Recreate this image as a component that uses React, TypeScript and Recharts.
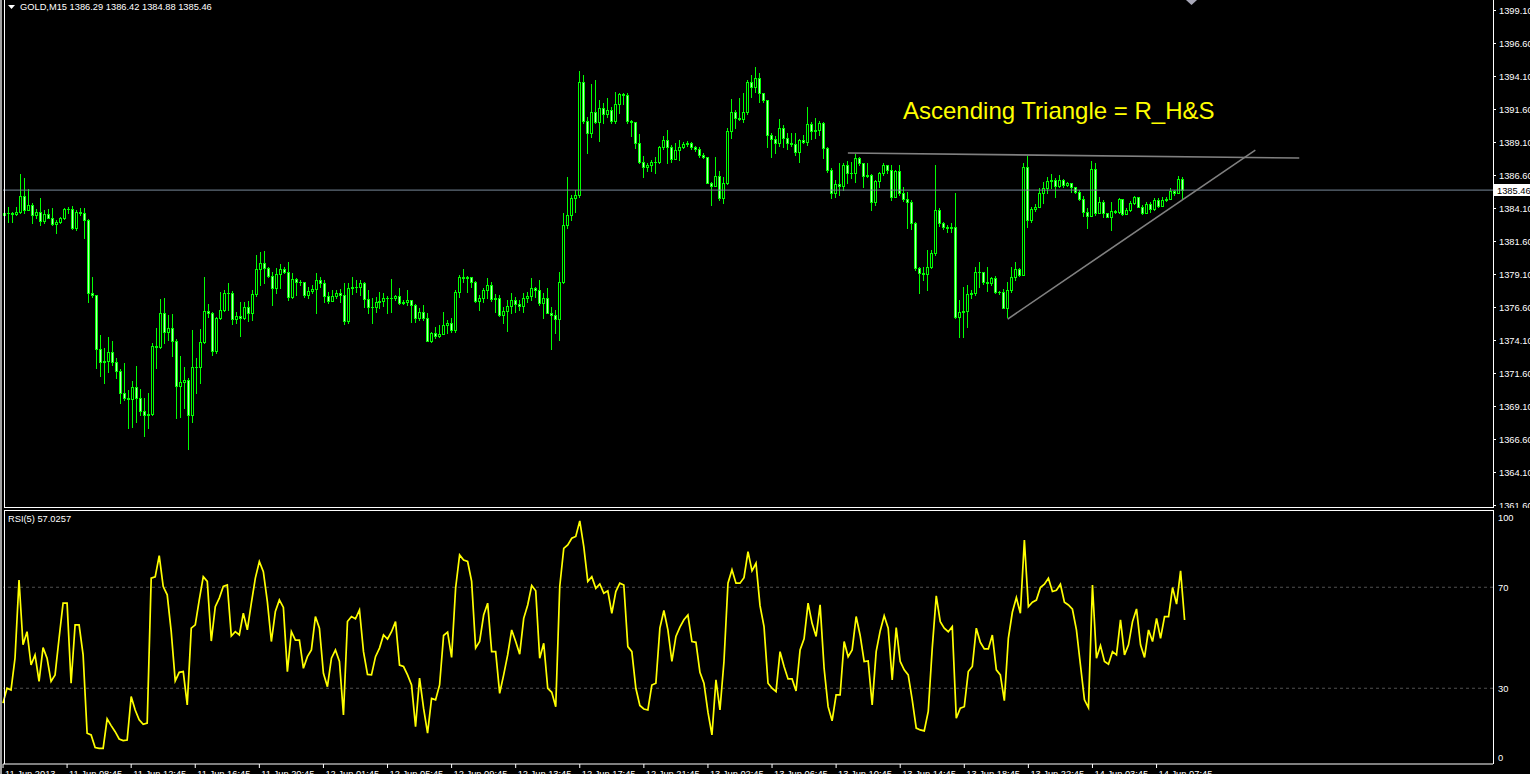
import React from 'react';
import { ComposedChart, Bar, Line, XAxis, YAxis, ReferenceLine } from 'recharts';

// GOLD M15, 11 Jun 2013 04:45 -> 14 Jun 2013 09:30
const firstOpen = 1383.6;
const closes = [
  1383.75, 1383.70, 1383.62, 1383.83, 1385.01, 1383.95, 1384.33, 1383.57, 1383.83, 1383.12,
  1383.65, 1383.37, 1382.89, 1383.07, 1383.32, 1384.00, 1384.03, 1382.61, 1383.78, 1383.70,
  1383.19, 1377.64, 1377.51, 1373.40, 1372.46, 1372.51, 1373.17, 1372.41, 1371.78, 1370.11,
  1369.74, 1369.66, 1370.52, 1369.74, 1368.75, 1368.42, 1368.50, 1373.65, 1373.60, 1376.12,
  1374.73, 1374.99, 1374.05, 1370.64, 1370.90, 1371.07, 1368.42, 1372.08, 1372.08, 1373.93,
  1376.30, 1376.12, 1373.30, 1375.77, 1376.35, 1377.64, 1377.69, 1375.67, 1375.92, 1375.75,
  1376.58, 1376.12, 1377.56, 1379.48, 1379.91, 1379.53, 1378.98, 1378.02, 1379.08, 1379.46,
  1379.28, 1377.39, 1378.70, 1378.52, 1378.47, 1377.51, 1377.81, 1377.94, 1378.64, 1378.39,
  1377.46, 1377.08, 1377.43, 1377.63, 1377.51, 1375.56, 1378.01, 1378.14, 1378.14, 1378.39,
  1377.18, 1376.62, 1376.62, 1377.00, 1377.08, 1377.25, 1377.25, 1377.25, 1377.43, 1376.92,
  1376.95, 1377.13, 1376.77, 1375.81, 1376.19, 1375.74, 1374.05, 1374.60, 1374.40, 1374.55,
  1375.23, 1375.36, 1374.90, 1377.71, 1378.84, 1378.77, 1378.84, 1378.52, 1377.08, 1377.25,
  1377.88, 1378.24, 1377.18, 1377.25, 1375.97, 1376.29, 1376.67, 1377.13, 1376.87, 1376.67,
  1377.30, 1377.46, 1378.01, 1377.88, 1376.92, 1377.25, 1376.17, 1375.99, 1375.66, 1378.52,
  1382.81, 1383.57, 1384.88, 1385.08, 1393.62, 1390.71, 1389.75, 1391.40, 1390.64, 1391.65,
  1391.19, 1391.52, 1390.69, 1391.95, 1392.73, 1392.63, 1390.69, 1390.61, 1389.00, 1387.56,
  1387.18, 1387.36, 1387.61, 1387.61, 1388.69, 1389.25, 1388.69, 1387.81, 1388.49, 1388.74,
  1388.95, 1389.00, 1388.69, 1388.59, 1388.11, 1387.99, 1386.02, 1385.76, 1386.52, 1384.88,
  1385.97, 1389.93, 1391.35, 1390.89, 1390.87, 1391.35, 1393.67, 1393.24, 1393.92, 1392.78,
  1392.28, 1389.63, 1389.35, 1389.00, 1390.13, 1389.43, 1389.00, 1388.92, 1388.37, 1389.25,
  1389.12, 1390.44, 1389.96, 1390.01, 1390.51, 1388.67, 1386.98, 1385.21, 1385.89, 1385.76,
  1387.36, 1386.72, 1386.78, 1387.86, 1387.48, 1386.52, 1386.60, 1384.58, 1386.14, 1386.72,
  1387.36, 1386.98, 1384.96, 1386.90, 1385.21, 1384.76, 1384.58, 1382.99, 1379.53, 1379.20,
  1379.07, 1379.60, 1380.66, 1383.99, 1382.94, 1382.63, 1382.56, 1382.68, 1375.87, 1376.25,
  1376.32, 1377.58, 1377.68, 1379.23, 1379.28, 1378.52, 1378.39, 1378.77, 1377.76, 1377.71,
  1376.55, 1377.89, 1378.90, 1379.50, 1379.02, 1387.18, 1383.19, 1384.02, 1384.20, 1385.26,
  1385.59, 1386.14, 1386.22, 1385.79, 1386.22, 1385.82, 1385.97, 1385.71, 1385.34, 1384.76,
  1383.82, 1383.49, 1387.03, 1383.74, 1384.55, 1383.74, 1383.44, 1383.90, 1383.82, 1384.76,
  1383.64, 1383.95, 1384.50, 1384.91, 1384.20, 1383.74, 1384.38, 1384.00, 1384.70, 1384.25,
  1384.70, 1384.76, 1385.41, 1385.26, 1386.29, 1385.46,
];
const highs = [
  1383.95, 1384.20, 1383.83, 1384.20, 1386.68, 1386.35, 1385.52, 1384.46, 1384.00, 1384.84,
  1383.95, 1384.00, 1384.08, 1383.19, 1383.45, 1384.08, 1384.15, 1384.26, 1383.95, 1384.13,
  1384.08, 1383.25, 1378.85, 1377.51, 1374.48, 1373.47, 1374.36, 1374.03, 1372.71, 1371.88,
  1372.34, 1370.32, 1371.00, 1372.13, 1370.37, 1369.68, 1370.06, 1373.90, 1374.99, 1377.21,
  1377.26, 1376.00, 1376.07, 1374.15, 1372.89, 1372.08, 1371.20, 1374.86, 1372.71, 1374.94,
  1378.90, 1376.83, 1376.25, 1375.87, 1377.77, 1377.89, 1378.40, 1377.79, 1376.25, 1377.01,
  1377.01, 1377.08, 1377.89, 1380.54, 1380.75, 1380.85, 1379.66, 1379.28, 1379.53, 1379.84,
  1379.66, 1380.04, 1379.15, 1378.78, 1378.64, 1378.52, 1378.09, 1378.26, 1379.20, 1378.90,
  1378.64, 1377.76, 1377.88, 1377.88, 1377.94, 1378.39, 1378.44, 1378.90, 1378.64, 1378.64,
  1378.52, 1377.88, 1377.25, 1377.38, 1377.76, 1377.63, 1377.43, 1378.69, 1377.51, 1378.01,
  1377.13, 1377.88, 1377.08, 1376.87, 1376.50, 1376.75, 1376.12, 1374.73, 1375.11, 1375.23,
  1376.24, 1375.61, 1375.74, 1377.88, 1379.02, 1379.48, 1378.95, 1378.82, 1378.57, 1377.51,
  1378.01, 1378.77, 1378.52, 1377.56, 1377.51, 1376.62, 1377.13, 1377.63, 1377.38, 1377.13,
  1377.63, 1377.76, 1378.77, 1378.14, 1378.64, 1377.63, 1378.01, 1376.62, 1376.37, 1379.27,
  1383.72, 1386.45, 1385.08, 1385.46, 1394.48, 1394.17, 1391.02, 1393.49, 1393.79, 1392.28,
  1392.08, 1392.41, 1391.77, 1392.91, 1392.84, 1392.78, 1392.78, 1390.76, 1390.64, 1389.70,
  1388.04, 1387.48, 1387.73, 1387.99, 1388.80, 1389.55, 1390.01, 1388.87, 1389.00, 1389.25,
  1389.12, 1389.20, 1389.12, 1388.80, 1388.74, 1388.29, 1387.99, 1386.09, 1387.94, 1386.90,
  1386.47, 1390.13, 1392.33, 1391.52, 1392.41, 1392.78, 1393.79, 1394.17, 1394.80, 1394.30,
  1392.78, 1392.28, 1389.81, 1389.55, 1390.82, 1390.39, 1389.81, 1389.75, 1389.81, 1389.30,
  1389.63, 1391.72, 1390.64, 1390.89, 1390.71, 1390.64, 1388.74, 1387.10, 1386.22, 1387.53,
  1387.53, 1387.68, 1387.61, 1388.19, 1387.94, 1387.48, 1387.48, 1386.65, 1386.22, 1386.85,
  1387.53, 1387.28, 1387.36, 1386.98, 1387.36, 1385.71, 1385.34, 1384.70, 1383.06, 1379.65,
  1379.65, 1380.92, 1380.92, 1387.36, 1384.07, 1383.06, 1382.81, 1382.94, 1385.21, 1377.13,
  1378.14, 1378.26, 1377.89, 1379.65, 1380.03, 1378.77, 1379.65, 1378.90, 1378.95, 1377.84,
  1377.94, 1378.52, 1379.65, 1380.03, 1379.53, 1387.48, 1388.04, 1384.20, 1384.40, 1385.59,
  1386.09, 1386.47, 1386.67, 1386.35, 1386.60, 1386.27, 1386.09, 1385.97, 1385.71, 1385.46,
  1385.00, 1384.07, 1387.68, 1387.48, 1384.96, 1384.70, 1383.57, 1384.58, 1383.95, 1384.83,
  1384.76, 1384.07, 1384.65, 1385.01, 1384.91, 1384.33, 1384.58, 1384.58, 1384.83, 1384.83,
  1384.96, 1384.91, 1385.59, 1385.46, 1386.52, 1386.42,
];
const lows = [
  1382.82, 1383.07, 1383.07, 1383.57, 1383.70, 1383.70, 1383.95, 1382.94, 1383.32, 1382.82,
  1382.94, 1383.32, 1382.82, 1382.18, 1382.94, 1383.25, 1383.70, 1382.49, 1382.44, 1383.57,
  1381.81, 1377.01, 1377.34, 1371.96, 1371.38, 1370.87, 1371.70, 1372.21, 1371.20, 1369.31,
  1369.56, 1367.46, 1367.54, 1367.92, 1368.42, 1366.86, 1367.46, 1368.42, 1371.98, 1373.52,
  1373.85, 1374.10, 1372.89, 1368.22, 1368.30, 1368.93, 1365.82, 1367.92, 1370.06, 1370.87,
  1373.90, 1375.87, 1372.97, 1373.09, 1375.67, 1376.33, 1376.38, 1375.32, 1375.37, 1374.43,
  1375.67, 1375.57, 1375.62, 1377.44, 1378.27, 1378.40, 1378.90, 1376.76, 1377.64, 1378.02,
  1379.15, 1377.13, 1377.26, 1377.51, 1378.26, 1377.38, 1377.25, 1377.68, 1376.17, 1378.14,
  1377.00, 1376.93, 1377.08, 1377.25, 1377.00, 1375.31, 1375.41, 1377.58, 1377.76, 1377.51,
  1376.57, 1376.17, 1375.41, 1376.24, 1376.50, 1376.67, 1376.17, 1376.24, 1377.13, 1376.82,
  1376.82, 1376.75, 1375.49, 1375.46, 1375.61, 1375.61, 1374.05, 1373.97, 1374.22, 1374.35,
  1374.60, 1374.60, 1374.73, 1374.73, 1377.38, 1378.52, 1377.76, 1378.14, 1377.00, 1376.37,
  1377.00, 1377.25, 1377.08, 1376.24, 1375.92, 1375.41, 1374.80, 1376.12, 1376.24, 1376.37,
  1376.24, 1377.00, 1377.13, 1377.38, 1376.75, 1375.74, 1376.12, 1373.39, 1374.60, 1374.10,
  1378.40, 1382.60, 1383.19, 1383.82, 1384.96, 1390.56, 1388.29, 1389.45, 1390.56, 1389.20,
  1390.51, 1391.02, 1390.56, 1390.56, 1391.32, 1391.95, 1390.56, 1389.55, 1388.62, 1387.48,
  1386.47, 1386.90, 1386.93, 1386.78, 1387.53, 1388.54, 1387.48, 1387.61, 1387.99, 1387.73,
  1388.62, 1388.80, 1388.54, 1388.44, 1387.99, 1387.91, 1385.97, 1384.33, 1385.97, 1384.70,
  1384.50, 1385.92, 1389.38, 1390.18, 1390.76, 1390.64, 1391.22, 1392.53, 1392.91, 1392.15,
  1392.15, 1388.74, 1387.99, 1388.24, 1388.80, 1388.74, 1388.54, 1388.80, 1388.11, 1387.61,
  1389.00, 1388.87, 1389.30, 1389.38, 1389.63, 1387.86, 1386.85, 1384.83, 1384.96, 1385.08,
  1385.46, 1385.97, 1386.35, 1386.09, 1387.36, 1385.71, 1386.47, 1383.95, 1384.33, 1385.71,
  1386.60, 1386.72, 1384.70, 1384.91, 1385.08, 1384.65, 1382.56, 1382.48, 1379.40, 1377.63,
  1378.64, 1377.89, 1379.53, 1380.54, 1382.73, 1382.48, 1382.30, 1382.30, 1375.74, 1374.35,
  1374.35, 1375.11, 1377.26, 1377.51, 1378.14, 1378.34, 1377.84, 1378.26, 1377.68, 1377.58,
  1376.50, 1375.82, 1377.76, 1378.64, 1378.95, 1379.02, 1382.63, 1383.06, 1383.90, 1384.20,
  1384.45, 1385.21, 1385.59, 1384.96, 1385.71, 1385.71, 1385.77, 1385.34, 1385.21, 1384.70,
  1383.49, 1382.56, 1383.57, 1383.57, 1383.74, 1383.39, 1383.39, 1382.43, 1383.69, 1383.74,
  1383.57, 1383.74, 1383.87, 1384.40, 1384.15, 1383.64, 1383.69, 1383.82, 1383.95, 1384.20,
  1384.25, 1384.65, 1384.76, 1385.08, 1385.21, 1384.88,
];
const rsiValues = [
  24.1, 30.0, 29.3, 41.9, 72.9, 47.2, 52.4, 39.2, 43.2, 32.7,
  46.1, 41.9, 32.7, 35.3, 49.8, 63.7, 63.7, 32.0, 55.1, 55.1,
  43.2, 12.2, 11.5, 6.5, 6.2, 6.2, 17.9, 15.2, 12.8, 9.9,
  9.3, 9.5, 26.7, 21.4, 17.5, 15.7, 16.2, 73.6, 74.1, 82.5,
  70.3, 67.0, 52.4, 32.9, 36.3, 36.6, 23.4, 53.8, 55.1, 65.0,
  74.2, 72.3, 48.7, 62.3, 65.7, 70.3, 70.9, 50.7, 52.4, 51.1,
  59.7, 53.1, 63.7, 73.6, 80.2, 76.2, 64.3, 48.5, 60.4, 65.0,
  62.0, 36.6, 52.4, 49.1, 49.1, 37.9, 42.5, 45.2, 58.4, 53.8,
  35.9, 30.6, 41.9, 45.2, 40.6, 19.4, 56.4, 58.4, 57.5, 61.0,
  44.5, 35.5, 35.3, 42.5, 45.9, 51.1, 49.5, 52.4, 56.4, 39.2,
  38.6, 35.3, 31.3, 14.8, 34.0, 22.1, 12.2, 26.0, 25.4, 31.3,
  50.9, 52.2, 42.2, 69.6, 82.8, 80.8, 80.2, 72.3, 45.9, 48.5,
  59.0, 63.7, 44.5, 44.5, 28.0, 35.3, 43.2, 53.1, 48.5, 43.5,
  57.7, 63.0, 70.7, 68.6, 41.9, 47.8, 30.0, 28.4, 22.7, 70.3,
  85.4, 86.8, 89.4, 90.1, 96.3, 86.1, 72.3, 74.2, 69.6, 71.3,
  67.6, 68.6, 59.7, 68.3, 71.6, 70.9, 46.5, 44.5, 30.0, 23.2,
  21.8, 21.4, 31.3, 32.0, 53.8, 60.8, 53.1, 40.6, 50.5, 54.2,
  57.1, 59.0, 48.5, 48.2, 36.3, 32.0, 20.5, 11.5, 33.3, 21.4,
  40.6, 71.6, 76.9, 71.6, 71.6, 73.8, 84.1, 76.5, 79.5, 62.7,
  54.4, 32.0, 30.0, 28.7, 44.5, 38.6, 33.7, 33.7, 28.9, 45.2,
  49.6, 63.7, 55.7, 50.5, 63.0, 37.9, 22.7, 17.1, 27.4, 27.4,
  48.5, 42.5, 45.2, 58.4, 50.9, 40.6, 40.8, 23.4, 44.5, 52.7,
  58.7, 53.8, 33.3, 54.0, 40.6, 37.3, 35.3, 25.4, 14.2, 13.5,
  13.1, 20.8, 45.9, 66.6, 56.4, 53.8, 52.4, 54.4, 18.1, 22.1,
  22.7, 36.6, 38.6, 53.8, 48.2, 45.6, 45.6, 51.1, 37.3, 35.3,
  25.1, 49.8, 60.1, 65.9, 59.7, 88.7, 62.3, 64.1, 64.9, 69.9,
  71.2, 73.6, 68.3, 68.8, 71.2, 64.1, 63.0, 61.3, 53.1, 39.2,
  25.4, 22.3, 70.9, 41.9, 46.9, 40.6, 39.5, 44.5, 43.2, 57.1,
  43.2, 47.2, 56.4, 61.4, 47.2, 42.2, 53.1, 48.5, 57.7, 49.8,
  58.4, 58.4, 69.9, 63.3, 76.5, 57.0257,
];

// empty bars to the right of the last candle (chart shift)
const emptySlots = 77;

const timeTickBars = [0, 16, 32, 48, 64, 80, 96, 112, 128, 144, 160, 176, 192, 208, 224, 240, 256, 272, 288];
const timeTickLabels = [
  '11 Jun 2013', '11 Jun 08:45', '11 Jun 12:45', '11 Jun 16:45', '11 Jun 20:45',
  '12 Jun 01:45', '12 Jun 05:45', '12 Jun 09:45', '12 Jun 13:45', '12 Jun 17:45',
  '12 Jun 21:45', '13 Jun 02:45', '13 Jun 06:45', '13 Jun 10:45', '13 Jun 14:45',
  '13 Jun 18:45', '13 Jun 22:45', '14 Jun 03:45', '14 Jun 07:45',
];
const priceTicks = [
  1361.6, 1364.1, 1366.6, 1369.1, 1371.6, 1374.1, 1376.6, 1379.1,
  1381.6, 1384.1, 1386.6, 1389.1, 1391.6, 1394.1, 1396.6, 1399.1,
];
const rsiTicks = [0, 30, 70, 100];
const rsiLevels = [30, 70];

// hand-drawn trend lines (bar index, price)
const resistanceLine = [{ x: 211, y: 1388.27 }, { x: 324, y: 1387.89 }];
const supportLine = [{ x: 251, y: 1375.69 }, { x: 313, y: 1388.49 }];
const noteText = 'Ascending Triangle = R_H&S';

const bars = closes.map((close, i) => {
  const open = i === 0 ? firstOpen : closes[i - 1];
  const high = Math.max(highs[i], open, close);
  const low = Math.min(lows[i], open, close);
  return { i, open, high, low, close, range: [low, high], rsi: rsiValues[i] };
});
const rows: any[] = [
  ...bars,
  ...Array.from({ length: emptySlots }, (_, k) => ({ i: bars.length + k })),
];
const last = bars[bars.length - 1];

const FONT = '"Liberation Sans", Arial, sans-serif';
const LIME = '#00ff00';

function Candle(props: any) {
  const { x, y, width, height, payload } = props;
  if (!payload || payload.close == null || x == null) return <g />;
  const { open, close, high, low } = payload;
  const top = Math.min(y, y + height);
  const h = Math.abs(height);
  const span = high - low;
  const toY = (v: number) => (span > 0 ? top + ((high - v) / span) * h : top);
  const col = Math.floor(x + width / 2);
  const wTop = Math.round(toY(high));
  const wBot = Math.round(toY(low));
  const bTop = Math.round(toY(Math.max(open, close)));
  const bBot = Math.round(toY(Math.min(open, close)));
  const bull = close >= open;
  return (
    <g shapeRendering="crispEdges">
      <rect x={col} y={wTop} width={1} height={Math.max(1, wBot - wTop + 1)} fill={LIME} />
      <rect x={col - 1} y={bTop} width={3} height={Math.max(1, bBot - bTop + 1)} fill={LIME} />
      {bBot - bTop > 1 && (
        <rect x={col} y={bTop + 1} width={1} height={bBot - bTop - 1} fill={bull ? '#000000' : '#b8ffb8'} />
      )}
    </g>
  );
}

function PriceTick(props: any) {
  const { y, payload } = props;
  return (
    <g>
      <rect x={1493} y={Math.round(y)} width={3} height={1} fill="#ffffff" />
      <text x={1499} y={y} dy={3.5} fill="#ffffff" fontSize={9.3} fontFamily={FONT} textAnchor="start">
        {Number(payload.value).toFixed(2)}
      </text>
    </g>
  );
}

function RsiTick(props: any) {
  const { y, payload } = props;
  const v = payload.value;
  const shift = v === 100 ? 6 : v === 0 ? -7 : 0;
  return (
    <text x={1498} y={y + shift} dy={3.5} fill="#ffffff" fontSize={9.3} fontFamily={FONT} textAnchor="start">
      {v}
    </text>
  );
}

function TimeTick(props: any) {
  const { x, y, payload } = props;
  const idx = timeTickBars.indexOf(payload.value);
  return (
    <text x={x + 2} y={y + 7} fill="#ffffff" fontSize={9.3} fontFamily={FONT} textAnchor="start">
      {idx >= 0 ? timeTickLabels[idx] : ''}
    </text>
  );
}

function PriceTag(props: any) {
  const vb = props.viewBox || {};
  const y = vb.y || 0;
  return (
    <g>
      <rect x={1494} y={Math.round(y) - 6} width={40} height={12} fill="#ffffff" />
      <text x={1497} y={y + 3.5} fill="#000000" fontSize={9.3} fontFamily={FONT}>
        {last.close.toFixed(2)}
      </text>
    </g>
  );
}

export default function App() {
  return (
    <div style={{ position: 'relative', width: 1530, height: 774, background: '#000', overflow: 'hidden' }}>
      <style>{'body{margin:0;background:#000;}'}</style>

      <div style={{ position: 'absolute', left: 0, top: 0 }}>
        <ComposedChart width={1530} height={508} data={rows} margin={{ top: 0, right: 0, bottom: 0, left: 3 }}>
          <XAxis dataKey="i" type="category" hide />
          <YAxis
            orientation="right"
            width={37}
            domain={[1361.38, 1399.86]}
            allowDataOverflow
            ticks={priceTicks}
            interval={0}
            axisLine={false}
            tickLine={false}
            tick={<PriceTick />}
          />
          <ReferenceLine
            y={last.close}
            stroke="#778899"
            strokeWidth={1}
            label={(p: any) => <PriceTag {...p} />}
          />
          <Bar dataKey="range" barSize={3} shape={(p: any) => <Candle {...p} />} isAnimationActive={false} />
          <ReferenceLine segment={resistanceLine} stroke="#808080" strokeWidth={1.6} ifOverflow="visible" />
          <ReferenceLine segment={supportLine} stroke="#808080" strokeWidth={1.6} ifOverflow="visible" />
        </ComposedChart>
      </div>

      <div style={{ position: 'absolute', left: 0, top: 510 }}>
        <ComposedChart width={1530} height={264} data={rows} margin={{ top: 1, right: 0, bottom: 0, left: 3 }}>
          <XAxis
            dataKey="i"
            type="category"
            ticks={timeTickBars}
            interval={0}
            height={10}
            tickSize={4}
            axisLine={{ stroke: '#ffffff' }}
            tickLine={{ stroke: '#ffffff' }}
            tick={<TimeTick />}
          />
          <YAxis
            orientation="right"
            width={37}
            domain={[0, 100.2]}
            allowDataOverflow
            ticks={rsiTicks}
            interval={0}
            axisLine={false}
            tickLine={false}
            tick={<RsiTick />}
          />
          {rsiLevels.map((lv) => (
            <ReferenceLine key={lv} y={lv} stroke="#505050" strokeDasharray="3 3" />
          ))}
          <Line
            type="linear"
            dataKey="rsi"
            stroke="#ffff00"
            strokeWidth={1.7}
            dot={false}
            isAnimationActive={false}
          />
        </ComposedChart>
      </div>

      <svg width={1530} height={774} style={{ position: 'absolute', left: 0, top: 0, pointerEvents: 'none' }}>
        <g shapeRendering="crispEdges">
          <rect x={0} y={0} width={2} height={774} fill="#a0a0a0" />
          <rect x={4} y={0} width={1} height={508} fill="#ffffff" />
          <rect x={4} y={507} width={1489} height={1} fill="#ffffff" />
          <rect x={1493} y={0} width={1} height={508} fill="#ffffff" />
          <rect x={4} y={510} width={1490} height={1} fill="#ffffff" />
          <rect x={4} y={510} width={1} height={254} fill="#ffffff" />
          <rect x={1493} y={510} width={1} height={254} fill="#ffffff" />
        </g>
        <polygon points="8,5 15,5 11.5,9" fill="#ffffff" />
        <text x={20} y={10} fill="#ffffff" fontSize={9.3} fontFamily={FONT}>
          {`GOLD,M15  ${last.open.toFixed(2)} ${last.high.toFixed(2)} ${last.low.toFixed(2)} ${last.close.toFixed(2)}`}
        </text>
        <text x={8} y={522} fill="#ffffff" fontSize={9.3} fontFamily={FONT}>
          {`RSI(5) ${rsiValues[rsiValues.length - 1].toFixed(4)}`}
        </text>
        <text x={903} y={119} fill="#ffff00" fontSize={24} fontFamily={FONT}>
          {noteText}
        </text>
        <polygon points="1186,0 1197,0 1191.5,5" fill="#a8a8b8" />
      </svg>
    </div>
  );
}
